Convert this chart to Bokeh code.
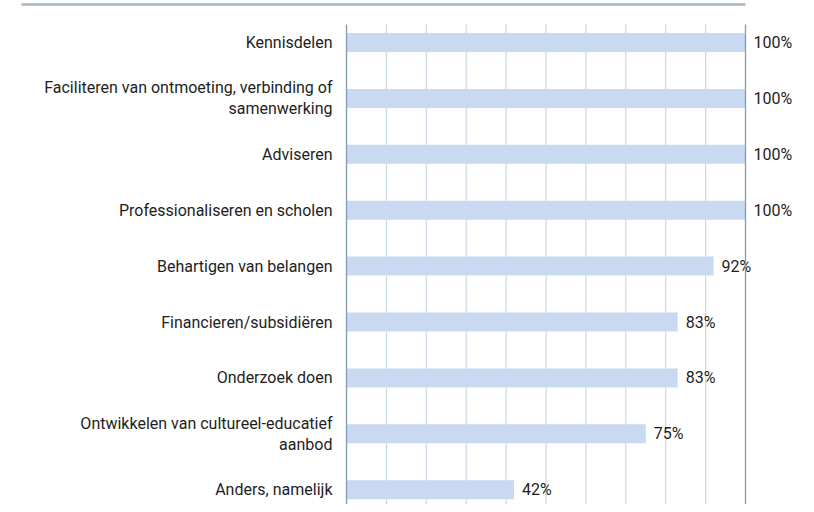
from bokeh.plotting import figure
from bokeh.models import Range1d, ColumnDataSource
from bokeh.core.properties import value
from bokeh.embed import file_html
from bokeh.resources import INLINE

categories = [
    "Kennisdelen",
    "Faciliteren van ontmoeting, verbinding of\nsamenwerking",
    "Adviseren",
    "Professionaliseren en scholen",
    "Behartigen van belangen",
    "Financieren/subsidiëren",
    "Onderzoek doen",
    "Ontwikkelen van cultureel-educatief\naanbod",
    "Anders, namelijk",
]
values = [100, 100, 100, 100, 92, 83, 83, 75, 42]
value_labels = ["100%", "100%", "100%", "100%", "92%", "83%", "83%", "75%", "42%"]
grid_ticks = [10, 20, 30, 40, 50, 60, 70, 80, 90]

# layout constants (pixels within the figure)
W, H = 806, 504
x0_px, x100_px = 346, 745
ppu = (x100_px - x0_px) / 100.0
row0_px, row_step = 42, 55.9
xr = Range1d((0 - x0_px) / ppu, (W - x0_px) / ppu)
yr = Range1d((H - row0_px) / row_step, (0 - row0_px) / row_step)

p = figure(width=W, height=H, x_range=xr, y_range=yr, output_backend="svg",
           toolbar_location=None, min_border=0)
p.axis.visible = False
p.grid.visible = False
p.outline_line_color = None

ys = list(range(len(categories)))
src = ColumnDataSource(dict(y=ys, v=values, cat=categories, lab=value_labels))

grid_top = (24 - row0_px) / row_step
grid_bot = yr.start
p.segment(x0=grid_ticks, x1=grid_ticks, y0=[grid_top] * len(grid_ticks),
          y1=[grid_bot] * len(grid_ticks), line_color="#c9d7e4", line_width=1.2)

p.hbar(y="y", left=0, right="v", height=0.34, source=src,
       fill_color="#c9d9f1", line_color=None)

p.text(x=0, y="y", text="cat", source=src, x_offset=-14, text_align="right",
       text_baseline="middle", text_font=value("Roboto"), text_font_size="16px",
       text_color="#1e1e1e", text_line_height=1.1)
p.text(x="v", y="y", text="lab", source=src, x_offset=8, text_align="left",
       text_baseline="middle", text_font=value("Roboto"), text_font_size="16px",
       text_color="#1e1e1e")

p.segment(x0=[0, 100], x1=[0, 100], y0=[grid_top] * 2, y1=[grid_bot] * 2,
          line_color="#7f9cb0", line_width=1.3)

top_y = (4 - row0_px) / row_step
p.segment(x0=[(21 - x0_px) / ppu], x1=[100], y0=[top_y], y1=[top_y],
          line_color="#a3b6c3", line_width=2.5)

open("out.html", "w").write(file_html(p, INLINE))
